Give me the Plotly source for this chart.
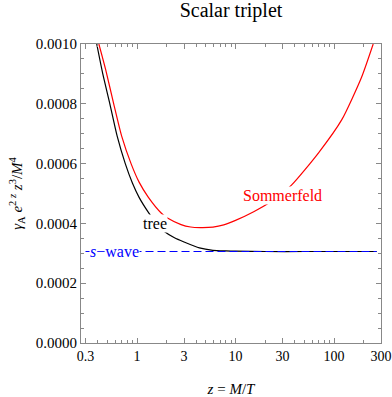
"""
Scalar triplet annihilation rate: tree level vs Sommerfeld-enhanced,
compared with the s-wave limit, as a function of z = M/T.
"""

import math
import plotly.graph_objects as go

# Tree-level rate (black curve), gamma_A e^{2z} z^3 / M^4
tree_z = [0.39, 0.45, 0.53, 0.63, 0.76, 0.9, 1.05, 1.31, 1.6, 1.91, 2.4,
          3.0, 4.3, 5.9, 8.0, 10.0, 20.0, 50.0, 100.0, 200.0, 271.0]
tree_rate = [10.0e-4, 8.99e-4, 8.0e-4, 6.91e-4, 6.0e-4, 5.34e-4, 4.87e-4,
             4.36e-4, 3.97e-4, 3.72e-4, 3.52e-4, 3.38e-4, 3.18e-4, 3.10e-4,
             3.08e-4, 3.07e-4, 3.06e-4, 3.06e-4, 3.06e-4, 3.06e-4, 3.06e-4]

# Sommerfeld-enhanced rate (red curve)
somm_z = [0.41, 0.48, 0.58, 0.7, 0.87, 1.05, 1.3, 1.77, 2.06, 2.8, 3.5, 4.4,
          5.9, 7.6, 10.0, 15.3, 23.0, 37.0, 70.0, 120.0, 190.0, 250.0]
somm_rate = [10.0e-4, 9.15e-4, 8.0e-4, 6.91e-4, 6.0e-4, 5.38e-4, 4.88e-4,
             4.34e-4, 4.17e-4, 3.96e-4, 3.88e-4, 3.86e-4, 3.875e-4, 3.95e-4,
             4.1e-4, 4.39e-4, 4.73e-4, 5.28e-4, 6.37e-4, 7.47e-4, 8.88e-4,
             10.0e-4]

# s-wave limit (blue dashed line)
swave_z = [0.3, 271.0]
swave_rate = [3.06e-4, 3.06e-4]

# Axis ticks
x_major = [0.3, 1, 3, 10, 30, 100, 300]
x_major_text = ["0.3", "1", "3", "10", "30", "100", "300"]
x_minor = [0.4, 0.5, 0.6, 0.7, 0.8, 0.9, 2, 4, 5, 6, 7, 8, 9,
           20, 40, 50, 60, 70, 80, 90, 200]
y_major = [0.0, 0.0002, 0.0004, 0.0006, 0.0008, 0.0010]

FONT = "Liberation Serif"
AXIS_GRAY = "#888888"


def create_rate_figure() -> go.Figure:
    """Build the rate comparison figure."""
    fig = go.Figure()

    fig.add_trace(go.Scatter(
        x=tree_z, y=tree_rate, mode="lines",
        line=dict(color="black", width=1.2, shape="spline", smoothing=0.6),
        showlegend=False,
    ))
    fig.add_trace(go.Scatter(
        x=somm_z, y=somm_rate, mode="lines",
        line=dict(color="#ff0000", width=1.2, shape="spline", smoothing=0.6),
        showlegend=False,
    ))
    # dashed s-wave line goes on top of the flat tree tail
    fig.add_trace(go.Scatter(
        x=swave_z, y=swave_rate, mode="lines",
        line=dict(color="#0000ff", width=1.2, dash="8px,4px"),
        showlegend=False, hoverinfo="skip",
    ))

    # Curve labels with white boxes that cut the lines, as in the original
    # (annotation x on a log axis is given in log10 units)
    labels = [
        ("tree", 1.52, 4.01e-4, "black"),
        ("Sommerfeld", 30.0, 4.95e-4, "#ff0000"),
        ("<i>s</i>\u2212wave", 0.594, 3.06e-4, "#0000ff"),
    ]
    for text, zx, yv, color in labels:
        fig.add_annotation(
            x=math.log10(zx), y=yv, xref="x", yref="y", text=text,
            showarrow=False, bgcolor="white", borderpad=0,
            font=dict(family=FONT, size=16, color=color),
        )

    axis_common = dict(
        showline=True, linecolor=AXIS_GRAY, linewidth=1,
        mirror="ticks", ticks="inside", tickcolor=AXIS_GRAY,
        showgrid=False, zeroline=False, automargin=False,
    )

    fig.update_xaxes(
        type="log", range=[-0.5686, 2.4771],
        tickvals=x_major, ticktext=x_major_text, ticklen=5,
        tickfont=dict(family=FONT, size=14, color="black"),
        minor=dict(tickvals=x_minor, ticks="inside", ticklen=3,
                   tickcolor=AXIS_GRAY, showgrid=False),
        title=dict(text="<i>z</i> = <i>M</i>/<i>T</i>", standoff=22,
                   font=dict(family=FONT, size=15, color="black")),
        **axis_common,
    )
    fig.update_yaxes(
        range=[0, 0.001], tickvals=y_major, tickformat=".4f", ticklen=5,
        tickfont=dict(family=FONT, size=15, color="black"),
        minor=dict(dtick=0.00005, ticks="inside", ticklen=3,
                   tickcolor=AXIS_GRAY, showgrid=False),
        title=dict(
            text="<i>\u03b3</i><sub>A</sub> <i>e</i><sup>2 <i>z</i></sup> "
                 "<i>z</i><sup>3</sup>/<i>M</i><sup>4</sup>",
            standoff=9, font=dict(family=FONT, size=15, color="black")),
        **axis_common,
    )

    fig.update_layout(
        width=392, height=397,
        margin=dict(l=81, r=11, t=44, b=54),
        paper_bgcolor="white", plot_bgcolor="white",
        title=dict(text="Scalar triplet", x=0.5, xref="paper",
                   y=0.975, yref="container", yanchor="middle",
                   font=dict(family=FONT, size=20, color="black")),
        showlegend=False,
    )
    return fig


fig = create_rate_figure()
# drop the default page margin so the figure sits at the window's corner
fig.write_html("out.html", config={"displayModeBar": False},
               post_script="document.body.style.margin = '0';")
